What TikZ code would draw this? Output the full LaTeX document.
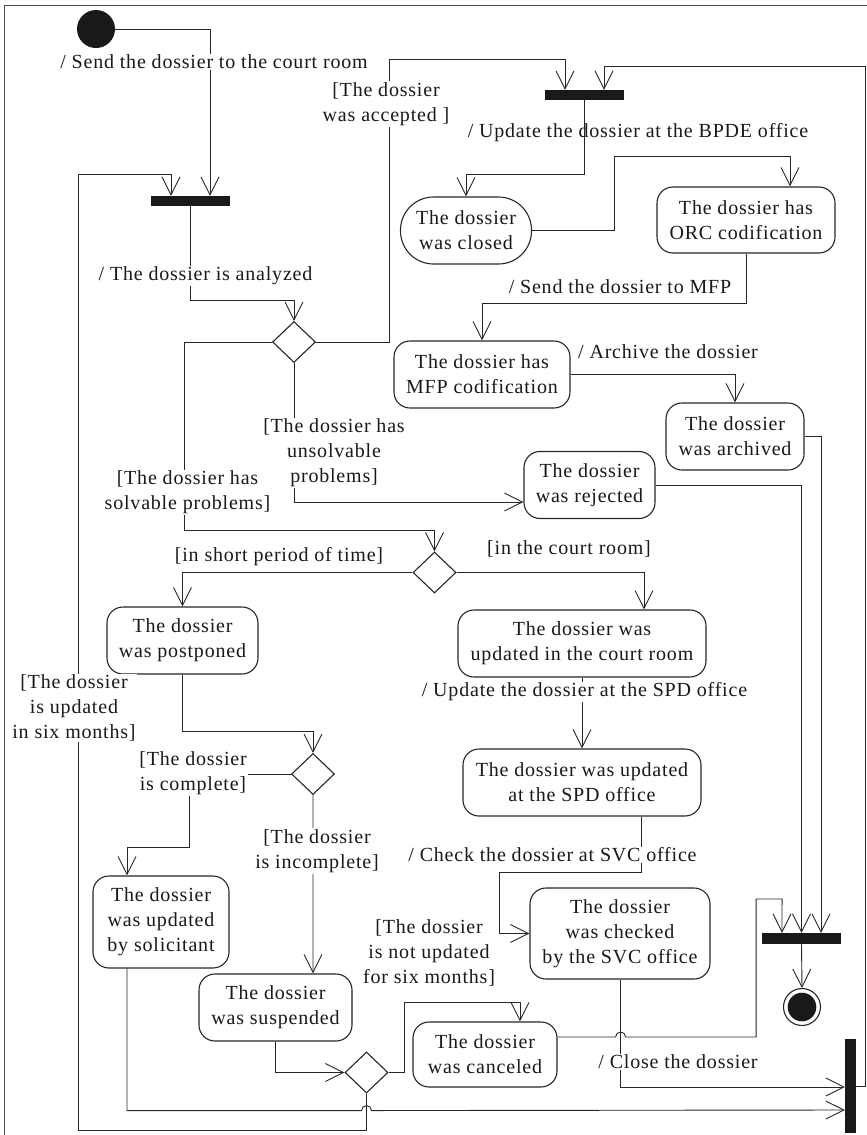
\documentclass[tikz,border=0pt]{standalone}
\usepackage{fontspec}
\setmainfont{Liberation Serif}[LetterSpace=4]
\usetikzlibrary{shapes.geometric,arrows.meta,calc}
\begin{document}
\begin{tikzpicture}[x=1bp,y=-1bp,
  every node/.style={font=\fontsize{20bp}{25bp}\selectfont, text=black!90},
  act/.style={draw=black!85, line width=1.1bp, rounded corners=16bp, align=center, inner sep=0pt, fill=white},
  bar/.style={fill=black!90, inner sep=0pt, draw=none},
  dec/.style={diamond, draw=black!85, line width=1.1bp, inner sep=0pt, minimum width=43bp, minimum height=41bp, fill=white},
  lbl/.style={align=center, inner sep=1bp, fill=white},
  lblnf/.style={align=center, inner sep=1bp},
  flow/.style={draw=black!85, line width=0.9bp, -{Straight Barb[length=18bp,width=18bp]}},
]
\useasboundingbox (0,0) rectangle (867,1135);
\draw[black!70, line width=1bp] (4.5,1135) -- (4.5,5) -- (867,5);

% nodes
\node[circle, fill=black!90, minimum size=38bp, inner sep=0pt] (start) at (96,29) {};
\node[bar, minimum width=79bp, minimum height=10bp] (bar1) at (190.5,201) {};
\node[bar, minimum width=79bp, minimum height=10bp] (bar2) at (584.5,95) {};
\node[bar, minimum width=79bp, minimum height=11bp] (bar3) at (801.5,938.5) {};
\node[bar, minimum width=11bp, minimum height=94bp] (bar4) at (850.5,1086) {};
\node[dec] (d1) at (294,342) {};
\node[dec] (d2) at (434.5,572.5) {};
\node[dec] (d3) at (313,774) {};
\node[dec] (d4) at (366.5,1072.5) {};
\node[act, rounded corners=33bp, minimum width=131bp, minimum height=67bp] (closed) at (466,230.5) {The dossier\\was closed};
\node[act, minimum width=178bp, minimum height=66bp] (orc) at (746,220) {The dossier has\\ORC codification};
\node[act, minimum width=176bp, minimum height=67bp] (mfp) at (482,374.5) {The dossier has\\MFP codification};
\node[act, minimum width=138bp, minimum height=67bp] (archived) at (735,436.5) {The dossier\\was archived};
\node[act, minimum width=131bp, minimum height=67bp] (rejected) at (589.5,485) {The dossier\\was rejected};
\node[act, minimum width=151bp, minimum height=67bp] (postponed) at (182.5,640.5) {The dossier\\was postponed};
\node[act, minimum width=248bp, minimum height=67bp] (court) at (582,643.5) {The dossier was\\updated in the court room};
\node[act, minimum width=238bp, minimum height=67bp] (spd) at (582,782.5) {The dossier was updated\\at the SPD office};
\node[act, minimum width=136bp, minimum height=92bp] (solic) at (161,922) {The dossier\\was updated\\by solicitant};
\node[act, minimum width=180bp, minimum height=91bp] (checked) at (620,933.5) {The dossier\\was checked\\by the SVC office};
\node[act, minimum width=153bp, minimum height=67bp] (susp) at (275.5,1007.5) {The dossier\\was suspended};
\node[act, minimum width=144bp, minimum height=65bp] (cancel) at (485,1054.5) {The dossier\\was canceled};
\node[circle, draw=black!85, line width=1.1bp, minimum size=37bp, inner sep=0pt,
  path picture={\fill[black!90] (path picture bounding box.center) circle[radius=14.3bp];}] (final) at (802,1007) {};

% connectors
\draw[flow] (start.east) -| ($(bar1.north)+(19.5,0)$);
\draw[flow] (bar1.south) -- ++(0,94) -| (d1.north);
\draw[flow] (d1.east) -- ++(73.5,0) |- ($(bar2.north)+(-19.5,-30)$) -- ($(bar2.north)+(-19.5,0)$);
\draw[flow] (bar2.south) -- ++(0,74) -| (closed.north);
\draw[flow] (closed.east) -- ++(82.5,0) |- ($(orc.north)+(44,-30)$) -- ($(orc.north)+(44,0)$);
\draw[flow] (orc.south) -- ++(0,50) -| (mfp.north);
\draw[flow] (mfp.east) -| (archived.north);
\draw[flow] (archived.east) -| ($(bar3.north)+(19.5,0)$);
\draw[flow] (rejected.east) -| (bar3.north);
\draw[flow] (d1.south) |- ($(rejected.west)+(0,17)$);
\draw[flow] (d1.west) -| ($(d2.north)+(-250.5,-21.5)$) -| (d2.north);
\draw[flow] (d2.west) -| (postponed.north);
\draw[flow] (d2.east) -| ($(court.north)+(62,0)$);
\draw[flow] (court.south) -- (spd.north);
\draw[flow] ($(spd.south)+(59,0)$) -- ++(0,56) -| ($(checked.west)+(-30,0)$) -- (checked.west);
\draw[flow] (checked.south) |- ($(bar4.west)+(0,1)$);
\draw[flow] ($(cancel.east)+(0,-17.5)$) -- ++(58,0) arc[start angle=180,end angle=0,radius=5bp] -- ++(130.5,0) -- ++(0,-138) -- ++(26,0) -- ($(bar3.north)+(-19.5,0)$);
\draw[flow] (bar3.south) -- (final.north);
\draw[flow] (postponed.south) -- ++(0,57) -| (d3.north);
\draw[flow] (d3.west) -- ++(-102,0) -- ++(0,73) -| ($(solic.north)+(-34,0)$);
\draw[flow] (d3.south) -- ($(susp.north)+(37.5,0)$);
\draw[flow] ($(solic.south)+(-34,0)$) -- ++(0,142) -- ++(234.5,0) arc[start angle=180,end angle=0,radius=5bp] -- ($(bar4.west)+(0,24)$);
\draw[flow] (susp.south) |- (d4.west);
\draw[flow] (d4.south) -- ++(0,37) -- ++(-288.5,0) |- ($(bar1.north)+(-19.5,-21)$) -- ($(bar1.north)+(-19.5,0)$);
\draw[flow] (d4.east) -- ++(15.5,0) |- ($(cancel.north)+(35,-19)$) -- ($(cancel.north)+(35,0)$);
\draw[flow] (bar4.east) -- ++(9.5,0) |- ($(bar2.north)+(19.5,-23)$) -- ($(bar2.north)+(19.5,0)$);

% labels
\node[lbl] (l1) at (214,62) {/ Send the dossier to the court room};
\node[lbl] (l2) at (205.5,276) {/ The dossier is analyzed};
\node[lbl] (l3) at (386,104) {[The dossier\\was accepted ]};
\node[lblnf] (l4) at (638,133) {/ Update the dossier at the BPDE office};
\node[lblnf] (l5) at (620,287) {/ Send the dossier to MFP};
\node[lblnf] (l6) at (668,352) {/ Archive the dossier};
\node[lbl] (l7) at (334,453) {[The dossier has\\unsolvable\\problems]};
\node[lbl] (l8) at (187.5,492.5) {[The dossier has\\solvable problems]};
\node[lblnf] (l9) at (279,557) {[in short period of time]};
\node[lblnf] (l10) at (569,549) {[in the court room]};
\node[lbl] (l11) at (584.5,692) {/ Update the dossier at the SPD office};
\node[lbl] (l12) at (74,708) {[The dossier\\is updated\\in six months]};
\node[lbl] (l13) at (193,773.5) {[The dossier\\is complete]};
\node[lbl] (l14) at (317,851) {[The dossier\\is incomplete]};
\node[lbl] (l15) at (552.5,855) {/ Check the dossier at SVC office};
\node[lblnf] (l16) at (429,953) {[The dossier\\is not updated\\for six months]};
\node[lbl] (l17) at (678,1062) {/ Close the dossier};
\end{tikzpicture}
\end{document}
